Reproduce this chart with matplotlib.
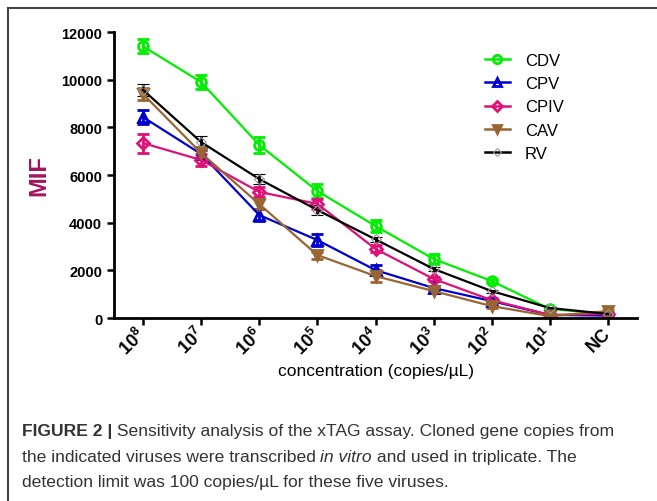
import matplotlib
matplotlib.use("Agg")
import matplotlib.pyplot as plt
from matplotlib.lines import Line2D
import numpy as np

plt.rcParams['font.family'] = ['Liberation Sans', 'DejaVu Sans']
plt.rcParams['mathtext.fontset'] = 'custom'
plt.rcParams['mathtext.bf'] = 'Liberation Sans:bold'
plt.rcParams['mathtext.rm'] = 'Liberation Sans'

# Data
tick_labels = [r'$\mathbf{10^{8}}$', r'$\mathbf{10^{7}}$', r'$\mathbf{10^{6}}$',
               r'$\mathbf{10^{5}}$', r'$\mathbf{10^{4}}$', r'$\mathbf{10^{3}}$',
               r'$\mathbf{10^{2}}$', r'$\mathbf{10^{1}}$', 'NC']

cdv = [11400, 9900, 7260, 5330, 3860, 2480, 1550, 380, 170]
cdv_err = [300, 280, 320, 300, 250, 200, 100, 50, 50]
cpv = [8430, 6880, 4320, 3270, 2010, 1260, 710, 130, 100]
cpv_err = [280, 150, 250, 250, 200, 100, 80, 50, 50]
cpiv = [7340, 6630, 5290, 4790, 2900, 1640, 750, 130, 170]
cpiv_err = [400, 250, 200, 200, 150, 100, 80, 50, 50]
cav = [9400, 6920, 4780, 2640, 1760, 1130, 500, 80, 290]
cav_err = [250, 250, 200, 150, 250, 100, 80, 50, 50]
rv = [9570, 7380, 5830, 4530, 3300, 2060, 1130, 420, 170]
rv_err = [250, 250, 200, 200, 100, 80, 60, 40, 40]

series = [
    ('CDV', cdv, cdv_err, '#00EE00', 'o', 'none', '#00EE00', 7),
    ('CPV', cpv, cpv_err, '#0000CC', '^', 'none', '#0000CC', 7),
    ('CPIV', cpiv, cpiv_err, '#DD1177', 'D', 'none', '#DD1177', 6),
    ('CAV', cav, cav_err, '#996633', 'v', '#996633', '#996633', 7),
    ('RV', rv, rv_err, 'black', 'D', 'none', '#999999', 5),
]

fig = plt.figure(figsize=(6.57, 5.02), dpi=100)
ax = fig.add_axes([0.1735, 0.3645, 0.7961, 0.5697])

x = np.arange(len(tick_labels))
handles = []
for name, y, err, color, marker, mfc, mec, ms in series:
    mew = 0.8 if name == 'RV' else 2
    ax.errorbar(x, y, yerr=err, color=color, marker=marker, markersize=ms,
                markerfacecolor=mfc, markeredgecolor=mec, markeredgewidth=mew,
                linewidth=1.6, elinewidth=2, capsize=4, capthick=2, ecolor=color)
    handles.append(Line2D([], [], color=color, marker=marker, markersize=ms - 1,
                          markerfacecolor=mfc, markeredgecolor=mec,
                          markeredgewidth=mew, linewidth=1.8, label=name))

ax.set_xlim(-0.5, 8.5)
ax.set_ylim(0, 12000)
ax.set_yticks(range(0, 12001, 2000))
ax.set_yticklabels([str(v) for v in range(0, 12001, 2000)], fontsize=10.5, fontweight='bold')
ax.set_xticks(x)
ax.set_xticklabels(tick_labels, rotation=45, fontsize=13, fontweight='bold',
                   ha='right', va='center', rotation_mode='anchor')
for s in ['top', 'right']:
    ax.spines[s].set_visible(False)
for s in ['left', 'bottom']:
    ax.spines[s].set_linewidth(2)
ax.tick_params(width=1.8, length=5)
ax.tick_params(axis='x', pad=4)

ax.set_ylabel('MIF', fontsize=17, fontweight='bold', color='#A3145E', labelpad=8)
ax.set_xlabel('concentration (copies/µL)', fontsize=12.5)
ax.xaxis.set_label_coords(0.5, -0.158)

ax.legend(handles=handles, loc='upper left', bbox_to_anchor=(0.68, 0.98), frameon=False,
          fontsize=12, handlelength=1.5, handletextpad=0.9, labelspacing=0.5)

# Figure border (top and left only)
fig.add_artist(Line2D([0.0115, 1.0], [0.983, 0.983], color='#444444', lw=1.5,
                      transform=fig.transFigure))
fig.add_artist(Line2D([0.0115, 0.0115], [0.0, 0.983], color='#444444', lw=1.5,
                      transform=fig.transFigure))

# Caption
cap_kw = dict(fontsize=12.6, color='#333333')
t1 = fig.text(0.033, 0.131, 'FIGURE 2 |', fontweight='bold', **cap_kw)
fig.add_artist(plt.Annotation(' Sensitivity analysis of the xTAG assay. Cloned gene copies from',
                              xy=(1, 0), xycoords=t1, va='bottom', **cap_kw))
t3 = fig.text(0.033, 0.080, 'the indicated viruses were transcribed ', **cap_kw)
t4 = plt.Annotation('in vitro', xy=(1, 0), xycoords=t3, va='bottom', style='italic', **cap_kw)
fig.add_artist(t4)
fig.add_artist(plt.Annotation(' and used in triplicate. The', xy=(1, 0), xycoords=t4,
                              va='bottom', **cap_kw))
fig.text(0.033, 0.030, 'detection limit was 100 copies/µL for these five viruses.', **cap_kw)

fig.savefig('out.png', dpi=100)
